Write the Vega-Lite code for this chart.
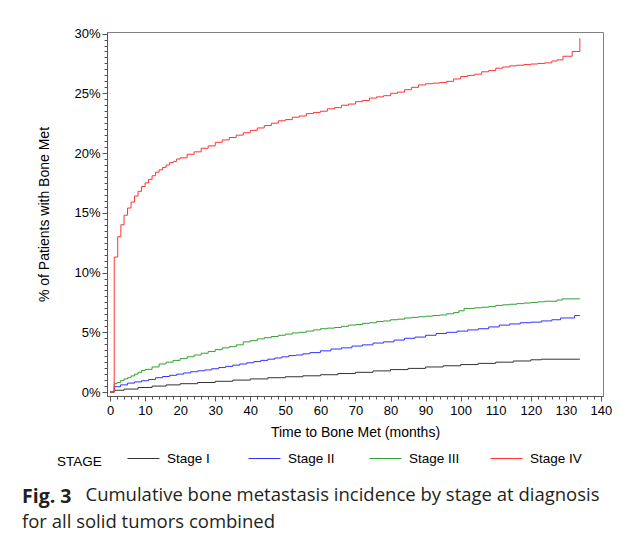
{
  "$schema": "https://vega.github.io/schema/vega-lite/v6.json",
  "background": "white",
  "padding": {"left": 21, "top": 27, "right": 10, "bottom": 5},
  "config": {
    "view": {"stroke": "#808080", "strokeWidth": 1},
    "axis": {"grid": false, "labelFont": "Liberation Sans", "labelFontSize": 13, "labelColor": "black", "titleFont": "Liberation Sans", "titleFontSize": 14, "titleFontWeight": "normal", "titleColor": "black", "domainColor": "#555555", "tickColor": "#555555"}
  },
  "title": {"text": "Cumulative bone metastasis incidence by stage at diagnosis", "orient": "bottom", "anchor": "start", "font": "Open Sans", "fontSize": 18.5, "fontWeight": "normal", "color": "#231f20", "dx": 64, "dy": -46, "offset": 0},
  "datasets": {
    "km": [
      {"stage": "Stage I", "month": 0, "pct": 0},
      {"stage": "Stage I", "month": 1.2, "pct": 0.15},
      {"stage": "Stage I", "month": 4, "pct": 0.25},
      {"stage": "Stage I", "month": 8, "pct": 0.38},
      {"stage": "Stage I", "month": 12, "pct": 0.5},
      {"stage": "Stage I", "month": 16, "pct": 0.6},
      {"stage": "Stage I", "month": 20, "pct": 0.7},
      {"stage": "Stage I", "month": 25, "pct": 0.8},
      {"stage": "Stage I", "month": 30, "pct": 0.9},
      {"stage": "Stage I", "month": 35, "pct": 1.0},
      {"stage": "Stage I", "month": 40, "pct": 1.1},
      {"stage": "Stage I", "month": 45, "pct": 1.2},
      {"stage": "Stage I", "month": 50, "pct": 1.28},
      {"stage": "Stage I", "month": 55, "pct": 1.36},
      {"stage": "Stage I", "month": 60, "pct": 1.45},
      {"stage": "Stage I", "month": 65, "pct": 1.55},
      {"stage": "Stage I", "month": 70, "pct": 1.65},
      {"stage": "Stage I", "month": 75, "pct": 1.77},
      {"stage": "Stage I", "month": 80, "pct": 1.88},
      {"stage": "Stage I", "month": 85, "pct": 1.98},
      {"stage": "Stage I", "month": 90, "pct": 2.1},
      {"stage": "Stage I", "month": 95, "pct": 2.2},
      {"stage": "Stage I", "month": 100, "pct": 2.3},
      {"stage": "Stage I", "month": 105, "pct": 2.4},
      {"stage": "Stage I", "month": 110, "pct": 2.5},
      {"stage": "Stage I", "month": 115, "pct": 2.6},
      {"stage": "Stage I", "month": 120, "pct": 2.7},
      {"stage": "Stage I", "month": 123, "pct": 2.75},
      {"stage": "Stage I", "month": 134, "pct": 2.75},
      {"stage": "Stage II", "month": 0, "pct": 0},
      {"stage": "Stage II", "month": 1.2, "pct": 0.45},
      {"stage": "Stage II", "month": 3, "pct": 0.6},
      {"stage": "Stage II", "month": 5, "pct": 0.75},
      {"stage": "Stage II", "month": 7, "pct": 0.85},
      {"stage": "Stage II", "month": 9, "pct": 0.95},
      {"stage": "Stage II", "month": 11, "pct": 1.05},
      {"stage": "Stage II", "month": 13, "pct": 1.2},
      {"stage": "Stage II", "month": 15, "pct": 1.3},
      {"stage": "Stage II", "month": 17, "pct": 1.4},
      {"stage": "Stage II", "month": 19, "pct": 1.5},
      {"stage": "Stage II", "month": 21, "pct": 1.6},
      {"stage": "Stage II", "month": 23, "pct": 1.7},
      {"stage": "Stage II", "month": 25, "pct": 1.78},
      {"stage": "Stage II", "month": 27, "pct": 1.85},
      {"stage": "Stage II", "month": 29, "pct": 1.95},
      {"stage": "Stage II", "month": 31, "pct": 2.05},
      {"stage": "Stage II", "month": 33, "pct": 2.15},
      {"stage": "Stage II", "month": 35, "pct": 2.25},
      {"stage": "Stage II", "month": 37, "pct": 2.35},
      {"stage": "Stage II", "month": 39, "pct": 2.45},
      {"stage": "Stage II", "month": 41, "pct": 2.55},
      {"stage": "Stage II", "month": 43, "pct": 2.65},
      {"stage": "Stage II", "month": 45, "pct": 2.75},
      {"stage": "Stage II", "month": 47, "pct": 2.85},
      {"stage": "Stage II", "month": 49, "pct": 2.95},
      {"stage": "Stage II", "month": 51, "pct": 3.05},
      {"stage": "Stage II", "month": 53, "pct": 3.1},
      {"stage": "Stage II", "month": 55, "pct": 3.2},
      {"stage": "Stage II", "month": 57, "pct": 3.3},
      {"stage": "Stage II", "month": 60, "pct": 3.45},
      {"stage": "Stage II", "month": 63, "pct": 3.6},
      {"stage": "Stage II", "month": 66, "pct": 3.7},
      {"stage": "Stage II", "month": 69, "pct": 3.85},
      {"stage": "Stage II", "month": 72, "pct": 3.95},
      {"stage": "Stage II", "month": 75, "pct": 4.1},
      {"stage": "Stage II", "month": 78, "pct": 4.2},
      {"stage": "Stage II", "month": 81, "pct": 4.35},
      {"stage": "Stage II", "month": 84, "pct": 4.5},
      {"stage": "Stage II", "month": 87, "pct": 4.6},
      {"stage": "Stage II", "month": 90, "pct": 4.75},
      {"stage": "Stage II", "month": 93, "pct": 4.9},
      {"stage": "Stage II", "month": 96, "pct": 5.0},
      {"stage": "Stage II", "month": 99, "pct": 5.1},
      {"stage": "Stage II", "month": 102, "pct": 5.2},
      {"stage": "Stage II", "month": 105, "pct": 5.3},
      {"stage": "Stage II", "month": 108, "pct": 5.45},
      {"stage": "Stage II", "month": 111, "pct": 5.6},
      {"stage": "Stage II", "month": 114, "pct": 5.7},
      {"stage": "Stage II", "month": 117, "pct": 5.8},
      {"stage": "Stage II", "month": 120, "pct": 5.85},
      {"stage": "Stage II", "month": 123, "pct": 5.95},
      {"stage": "Stage II", "month": 126, "pct": 6.05},
      {"stage": "Stage II", "month": 128.5, "pct": 6.2},
      {"stage": "Stage II", "month": 132.5, "pct": 6.4},
      {"stage": "Stage II", "month": 134, "pct": 6.4},
      {"stage": "Stage III", "month": 0, "pct": 0},
      {"stage": "Stage III", "month": 1.2, "pct": 0.7},
      {"stage": "Stage III", "month": 2, "pct": 0.8},
      {"stage": "Stage III", "month": 3, "pct": 0.95},
      {"stage": "Stage III", "month": 4, "pct": 1.1},
      {"stage": "Stage III", "month": 5, "pct": 1.2},
      {"stage": "Stage III", "month": 6, "pct": 1.35},
      {"stage": "Stage III", "month": 7, "pct": 1.5},
      {"stage": "Stage III", "month": 8, "pct": 1.65},
      {"stage": "Stage III", "month": 9, "pct": 1.8},
      {"stage": "Stage III", "month": 10, "pct": 1.9},
      {"stage": "Stage III", "month": 12, "pct": 2.1},
      {"stage": "Stage III", "month": 14, "pct": 2.35},
      {"stage": "Stage III", "month": 16, "pct": 2.5},
      {"stage": "Stage III", "month": 18, "pct": 2.65},
      {"stage": "Stage III", "month": 20, "pct": 2.8},
      {"stage": "Stage III", "month": 22, "pct": 2.95},
      {"stage": "Stage III", "month": 24, "pct": 3.1},
      {"stage": "Stage III", "month": 26, "pct": 3.25},
      {"stage": "Stage III", "month": 28, "pct": 3.4},
      {"stage": "Stage III", "month": 30, "pct": 3.55},
      {"stage": "Stage III", "month": 32, "pct": 3.7},
      {"stage": "Stage III", "month": 34, "pct": 3.8},
      {"stage": "Stage III", "month": 36, "pct": 3.95},
      {"stage": "Stage III", "month": 38, "pct": 4.2},
      {"stage": "Stage III", "month": 40, "pct": 4.3},
      {"stage": "Stage III", "month": 42, "pct": 4.45},
      {"stage": "Stage III", "month": 44, "pct": 4.55},
      {"stage": "Stage III", "month": 46, "pct": 4.65},
      {"stage": "Stage III", "month": 48, "pct": 4.75},
      {"stage": "Stage III", "month": 50, "pct": 4.85},
      {"stage": "Stage III", "month": 52, "pct": 4.95},
      {"stage": "Stage III", "month": 54, "pct": 5.0},
      {"stage": "Stage III", "month": 56, "pct": 5.1},
      {"stage": "Stage III", "month": 58, "pct": 5.2},
      {"stage": "Stage III", "month": 60, "pct": 5.3},
      {"stage": "Stage III", "month": 62, "pct": 5.35},
      {"stage": "Stage III", "month": 64, "pct": 5.4},
      {"stage": "Stage III", "month": 66, "pct": 5.5},
      {"stage": "Stage III", "month": 68, "pct": 5.6},
      {"stage": "Stage III", "month": 70, "pct": 5.65},
      {"stage": "Stage III", "month": 72, "pct": 5.75},
      {"stage": "Stage III", "month": 74, "pct": 5.8},
      {"stage": "Stage III", "month": 76, "pct": 5.9},
      {"stage": "Stage III", "month": 78, "pct": 5.95},
      {"stage": "Stage III", "month": 80, "pct": 6.05},
      {"stage": "Stage III", "month": 82, "pct": 6.1},
      {"stage": "Stage III", "month": 84, "pct": 6.2},
      {"stage": "Stage III", "month": 86, "pct": 6.25},
      {"stage": "Stage III", "month": 88, "pct": 6.3},
      {"stage": "Stage III", "month": 90, "pct": 6.35},
      {"stage": "Stage III", "month": 92, "pct": 6.4},
      {"stage": "Stage III", "month": 94, "pct": 6.45},
      {"stage": "Stage III", "month": 96, "pct": 6.55},
      {"stage": "Stage III", "month": 98, "pct": 6.65},
      {"stage": "Stage III", "month": 99.5, "pct": 6.8},
      {"stage": "Stage III", "month": 101, "pct": 7.0},
      {"stage": "Stage III", "month": 104, "pct": 7.05},
      {"stage": "Stage III", "month": 106, "pct": 7.1},
      {"stage": "Stage III", "month": 108, "pct": 7.15},
      {"stage": "Stage III", "month": 110, "pct": 7.25},
      {"stage": "Stage III", "month": 112, "pct": 7.3},
      {"stage": "Stage III", "month": 114, "pct": 7.35},
      {"stage": "Stage III", "month": 116, "pct": 7.4},
      {"stage": "Stage III", "month": 118, "pct": 7.45},
      {"stage": "Stage III", "month": 120, "pct": 7.5},
      {"stage": "Stage III", "month": 122, "pct": 7.55},
      {"stage": "Stage III", "month": 124, "pct": 7.6},
      {"stage": "Stage III", "month": 127.5, "pct": 7.7},
      {"stage": "Stage III", "month": 129, "pct": 7.8},
      {"stage": "Stage III", "month": 134, "pct": 7.8},
      {"stage": "Stage IV", "month": 0, "pct": 0},
      {"stage": "Stage IV", "month": 1.2, "pct": 11.3},
      {"stage": "Stage IV", "month": 2.2, "pct": 13.0},
      {"stage": "Stage IV", "month": 3.1, "pct": 14.0},
      {"stage": "Stage IV", "month": 4, "pct": 14.8},
      {"stage": "Stage IV", "month": 5, "pct": 15.4},
      {"stage": "Stage IV", "month": 6, "pct": 15.9},
      {"stage": "Stage IV", "month": 7, "pct": 16.4},
      {"stage": "Stage IV", "month": 8, "pct": 16.8},
      {"stage": "Stage IV", "month": 9, "pct": 17.2},
      {"stage": "Stage IV", "month": 10, "pct": 17.5},
      {"stage": "Stage IV", "month": 11, "pct": 17.8},
      {"stage": "Stage IV", "month": 12, "pct": 18.1},
      {"stage": "Stage IV", "month": 13, "pct": 18.4},
      {"stage": "Stage IV", "month": 14, "pct": 18.6},
      {"stage": "Stage IV", "month": 15, "pct": 18.8},
      {"stage": "Stage IV", "month": 16, "pct": 19.0},
      {"stage": "Stage IV", "month": 17, "pct": 19.2},
      {"stage": "Stage IV", "month": 18, "pct": 19.3},
      {"stage": "Stage IV", "month": 19, "pct": 19.5},
      {"stage": "Stage IV", "month": 20, "pct": 19.6},
      {"stage": "Stage IV", "month": 22, "pct": 19.9},
      {"stage": "Stage IV", "month": 24, "pct": 20.1},
      {"stage": "Stage IV", "month": 26, "pct": 20.4},
      {"stage": "Stage IV", "month": 28, "pct": 20.6},
      {"stage": "Stage IV", "month": 30, "pct": 20.9},
      {"stage": "Stage IV", "month": 32, "pct": 21.1},
      {"stage": "Stage IV", "month": 34, "pct": 21.3},
      {"stage": "Stage IV", "month": 36, "pct": 21.5},
      {"stage": "Stage IV", "month": 38, "pct": 21.7},
      {"stage": "Stage IV", "month": 40, "pct": 21.9},
      {"stage": "Stage IV", "month": 42, "pct": 22.1},
      {"stage": "Stage IV", "month": 44, "pct": 22.3},
      {"stage": "Stage IV", "month": 46, "pct": 22.5},
      {"stage": "Stage IV", "month": 48, "pct": 22.7},
      {"stage": "Stage IV", "month": 50, "pct": 22.8},
      {"stage": "Stage IV", "month": 52, "pct": 23.0},
      {"stage": "Stage IV", "month": 54, "pct": 23.1},
      {"stage": "Stage IV", "month": 56, "pct": 23.3},
      {"stage": "Stage IV", "month": 58, "pct": 23.4},
      {"stage": "Stage IV", "month": 60, "pct": 23.5},
      {"stage": "Stage IV", "month": 62, "pct": 23.7},
      {"stage": "Stage IV", "month": 64, "pct": 23.8},
      {"stage": "Stage IV", "month": 66, "pct": 24.0},
      {"stage": "Stage IV", "month": 68, "pct": 24.1},
      {"stage": "Stage IV", "month": 70, "pct": 24.3},
      {"stage": "Stage IV", "month": 72, "pct": 24.4},
      {"stage": "Stage IV", "month": 74, "pct": 24.6},
      {"stage": "Stage IV", "month": 76, "pct": 24.7},
      {"stage": "Stage IV", "month": 78, "pct": 24.8},
      {"stage": "Stage IV", "month": 80, "pct": 25.0},
      {"stage": "Stage IV", "month": 82, "pct": 25.1},
      {"stage": "Stage IV", "month": 84, "pct": 25.3},
      {"stage": "Stage IV", "month": 86, "pct": 25.5},
      {"stage": "Stage IV", "month": 88, "pct": 25.7},
      {"stage": "Stage IV", "month": 90, "pct": 25.8},
      {"stage": "Stage IV", "month": 92, "pct": 25.85},
      {"stage": "Stage IV", "month": 94, "pct": 25.9},
      {"stage": "Stage IV", "month": 96, "pct": 26.0},
      {"stage": "Stage IV", "month": 98, "pct": 26.2},
      {"stage": "Stage IV", "month": 100, "pct": 26.4},
      {"stage": "Stage IV", "month": 102, "pct": 26.5},
      {"stage": "Stage IV", "month": 104, "pct": 26.6},
      {"stage": "Stage IV", "month": 106, "pct": 26.8},
      {"stage": "Stage IV", "month": 108, "pct": 26.9},
      {"stage": "Stage IV", "month": 110, "pct": 27.1},
      {"stage": "Stage IV", "month": 112, "pct": 27.2},
      {"stage": "Stage IV", "month": 114, "pct": 27.3},
      {"stage": "Stage IV", "month": 116, "pct": 27.35},
      {"stage": "Stage IV", "month": 118, "pct": 27.4},
      {"stage": "Stage IV", "month": 120, "pct": 27.45},
      {"stage": "Stage IV", "month": 122, "pct": 27.5},
      {"stage": "Stage IV", "month": 124, "pct": 27.55},
      {"stage": "Stage IV", "month": 126, "pct": 27.7},
      {"stage": "Stage IV", "month": 127.5, "pct": 27.8},
      {"stage": "Stage IV", "month": 129.2, "pct": 28.1},
      {"stage": "Stage IV", "month": 131.8, "pct": 28.5},
      {"stage": "Stage IV", "month": 134, "pct": 29.6}
    ]
  },
  "vconcat": [
    {
      "width": 496,
      "height": 364,
      "title": {"text": "Fig. 3", "subtitle": "for all solid tumors combined", "orient": "bottom", "anchor": "start", "font": "Open Sans", "fontSize": 19.5, "fontWeight": "bold", "color": "#231f20", "subtitleFont": "Open Sans", "subtitleFontSize": 18.5, "subtitleFontWeight": "normal", "subtitleColor": "#231f20", "subtitlePadding": 5, "offset": 49, "dx": -16},
      "data": {"name": "km"},
      "layer": [
        {
          "mark": {"type": "line", "interpolate": "step-after", "strokeWidth": 1},
          "encoding": {
            "x": {"field": "month", "type": "quantitative", "scale": {"domain": [-0.86, 140.6], "nice": false, "zero": false},
                  "axis": {"orient": "bottom", "values": [0, 10, 20, 30, 40, 50, 60, 70, 80, 90, 100, 110, 120, 130, 140], "tickSize": 5, "labelPadding": 3, "title": "Time to Bone Met (months)", "titlePadding": 8}},
            "y": {"field": "pct", "type": "quantitative", "scale": {"domain": [-0.33, 30.13], "nice": false, "zero": false},
                  "axis": {"orient": "left", "values": [0, 5, 10, 15, 20, 25, 30], "labelExpr": "datum.value + '%'", "tickSize": 5, "labelPadding": 2, "title": "% of Patients with Bone Met", "titlePadding": 22}},
            "color": {"field": "stage", "type": "nominal",
                      "scale": {"domain": ["Stage I", "Stage II", "Stage III", "Stage IV"], "range": ["#333333", "#3333ff", "#33a033", "#ff3333"]},
                      "legend": {"orient": "none", "legendX": -50, "legendY": 410, "direction": "horizontal", "title": "STAGE", "titleOrient": "left", "titleBaseline": "line-top", "titleLineHeight": 17, "titlePadding": 25, "titleFont": "Liberation Sans", "titleFontSize": 13.5, "titleFontWeight": "normal", "titleColor": "black", "labelFont": "Liberation Sans", "labelFontSize": 13.5, "labelColor": "black", "symbolType": "stroke", "symbolSize": 1024, "symbolStrokeWidth": 1, "labelOffset": 7, "columnPadding": 27, "gridAlign": "all"}}
          }
        },
        {
          "mark": {"type": "line", "strokeOpacity": 0},
          "encoding": {
            "x": {"field": "month", "type": "quantitative", "scale": {"domain": [-0.86, 140.6], "nice": false, "zero": false},
                  "axis": {"orient": "bottom", "values": [0, 2, 4, 6, 8, 10, 12, 14, 16, 18, 20, 22, 24, 26, 28, 30, 32, 34, 36, 38, 40, 42, 44, 46, 48, 50, 52, 54, 56, 58, 60, 62, 64, 66, 68, 70, 72, 74, 76, 78, 80, 82, 84, 86, 88, 90, 92, 94, 96, 98, 100, 102, 104, 106, 108, 110, 112, 114, 116, 118, 120, 122, 124, 126, 128, 130, 132, 134, 136, 138, 140], "tickSize": 3, "labels": false, "domain": false, "title": null}},
            "y": {"field": "pct", "type": "quantitative", "scale": {"domain": [-0.33, 30.13], "nice": false, "zero": false},
                  "axis": {"orient": "left", "values": [0, 0.5, 1, 1.5, 2, 2.5, 3, 3.5, 4, 4.5, 5, 5.5, 6, 6.5, 7, 7.5, 8, 8.5, 9, 9.5, 10, 10.5, 11, 11.5, 12, 12.5, 13, 13.5, 14, 14.5, 15, 15.5, 16, 16.5, 17, 17.5, 18, 18.5, 19, 19.5, 20, 20.5, 21, 21.5, 22, 22.5, 23, 23.5, 24, 24.5, 25, 25.5, 26, 26.5, 27, 27.5, 28, 28.5, 29, 29.5, 30], "tickSize": 3, "labels": false, "domain": false, "title": null}},
            "detail": {"field": "stage", "type": "nominal"}
          }
        }
      ],
      "resolve": {"axis": {"x": "independent", "y": "independent"}}
    }
  ]
}
